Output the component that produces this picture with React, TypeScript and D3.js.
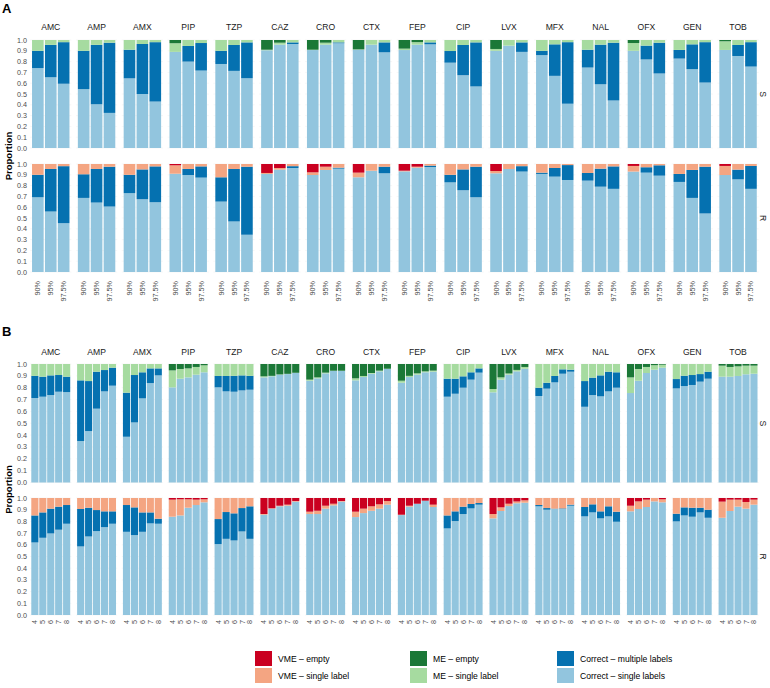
import * as d3 from "d3";

// antibiotics (facet columns)
const drugs = ["AMC", "AMP", "AMX", "PIP", "TZP", "CAZ", "CRO", "CTX", "FEP", "CIP", "LVX", "MFX", "NAL", "OFX", "GEN", "TOB"];
const thresholdsA = ["90%", "95%", "97.5%"];
const thresholdsB = ["4", "5", "6", "7", "8"];
const yTicks = [0, 0.1, 0.2, 0.3, 0.4, 0.5, 0.6, 0.7, 0.8, 0.9, 1.0];

// each bar: [correct single, correct multiple, error single label, error empty]
const aSusceptible = [
  [[0.74, 0.16, 0.10, 0], [0.655, 0.30, 0.045, 0], [0.595, 0.385, 0.02, 0]],
  [[0.545, 0.355, 0.10, 0], [0.405, 0.55, 0.045, 0], [0.325, 0.65, 0.025, 0]],
  [[0.645, 0.265, 0.09, 0], [0.50, 0.463, 0.037, 0], [0.43, 0.55, 0.02, 0]],
  [[0.89, 0, 0.08, 0.03], [0.80, 0.145, 0.055, 0], [0.717, 0.255, 0.028, 0]],
  [[0.778, 0.122, 0.10, 0], [0.714, 0.24, 0.046, 0], [0.646, 0.332, 0.022, 0]],
  [[0.905, 0, 0.005, 0.09], [0.957, 0, 0.018, 0.025], [0.963, 0.015, 0.022, 0]],
  [[0.907, 0, 0.003, 0.09], [0.957, 0, 0.018, 0.025], [0.97, 0.008, 0.022, 0]],
  [[0.91, 0, 0.003, 0.087], [0.957, 0, 0.043, 0], [0.886, 0.092, 0.022, 0]],
  [[0.907, 0, 0.013, 0.08], [0.957, 0, 0.023, 0.02], [0.96, 0.018, 0.022, 0]],
  [[0.79, 0.108, 0.102, 0], [0.674, 0.28, 0.046, 0], [0.57, 0.408, 0.022, 0]],
  [[0.90, 0, 0.017, 0.083], [0.948, 0, 0.052, 0], [0.89, 0.088, 0.022, 0]],
  [[0.86, 0.04, 0.10, 0], [0.668, 0.292, 0.04, 0], [0.41, 0.57, 0.02, 0]],
  [[0.745, 0.165, 0.09, 0], [0.59, 0.367, 0.043, 0], [0.44, 0.535, 0.025, 0]],
  [[0.90, 0, 0.072, 0.028], [0.82, 0.128, 0.052, 0], [0.69, 0.285, 0.025, 0]],
  [[0.828, 0.08, 0.092, 0], [0.73, 0.23, 0.04, 0], [0.606, 0.374, 0.02, 0]],
  [[0.908, 0, 0.08, 0.012], [0.852, 0.102, 0.046, 0], [0.754, 0.226, 0.02, 0]],
];

const aResistant = [
  [[0.692, 0.208, 0.10, 0], [0.56, 0.394, 0.046, 0], [0.452, 0.528, 0.02, 0]],
  [[0.686, 0.219, 0.095, 0], [0.643, 0.311, 0.046, 0], [0.606, 0.369, 0.025, 0]],
  [[0.73, 0.17, 0.10, 0], [0.674, 0.276, 0.05, 0], [0.646, 0.332, 0.022, 0]],
  [[0.91, 0, 0.078, 0.012], [0.898, 0.056, 0.046, 0], [0.874, 0.104, 0.022, 0]],
  [[0.652, 0.225, 0.123, 0], [0.468, 0.486, 0.046, 0], [0.345, 0.63, 0.025, 0]],
  [[0.908, 0, 0.009, 0.083], [0.948, 0, 0.015, 0.037], [0.963, 0.017, 0.02, 0]],
  [[0.898, 0, 0.025, 0.077], [0.945, 0, 0.03, 0.025], [0.957, 0.009, 0.034, 0]],
  [[0.877, 0, 0.043, 0.08], [0.938, 0, 0.062, 0], [0.914, 0.061, 0.025, 0]],
  [[0.932, 0, 0.006, 0.062], [0.966, 0, 0.009, 0.025], [0.972, 0.013, 0.015, 0]],
  [[0.83, 0.07, 0.10, 0], [0.757, 0.193, 0.05, 0], [0.692, 0.283, 0.025, 0]],
  [[0.914, 0, 0.021, 0.065], [0.954, 0, 0.046, 0], [0.93, 0.05, 0.02, 0]],
  [[0.908, 0.012, 0.08, 0], [0.883, 0.08, 0.037, 0], [0.852, 0.138, 0.01, 0]],
  [[0.846, 0.071, 0.083, 0], [0.79, 0.167, 0.043, 0], [0.77, 0.208, 0.022, 0]],
  [[0.93, 0, 0.052, 0.018], [0.92, 0.05, 0.03, 0], [0.892, 0.096, 0.012, 0]],
  [[0.834, 0.074, 0.092, 0], [0.686, 0.259, 0.055, 0], [0.542, 0.433, 0.025, 0]],
  [[0.898, 0, 0.084, 0.018], [0.858, 0.09, 0.052, 0], [0.77, 0.212, 0.018, 0]],
];

const bSusceptible = [
  [[0.713, 0.187, 0.10, 0], [0.724, 0.169, 0.107, 0], [0.738, 0.166, 0.096, 0], [0.766, 0.141, 0.093, 0], [0.763, 0.13, 0.107, 0]],
  [[0.35, 0.512, 0.138, 0], [0.434, 0.422, 0.144, 0], [0.623, 0.312, 0.065, 0], [0.769, 0.18, 0.051, 0], [0.817, 0.152, 0.031, 0]],
  [[0.386, 0.372, 0.242, 0], [0.507, 0.40, 0.093, 0], [0.71, 0.22, 0.07, 0], [0.839, 0.124, 0.037, 0], [0.904, 0.059, 0.037, 0]],
  [[0.803, 0, 0.143, 0.054], [0.876, 0, 0.082, 0.042], [0.887, 0, 0.076, 0.037], [0.91, 0, 0.065, 0.025], [0.93, 0, 0.059, 0.011]],
  [[0.803, 0.096, 0.101, 0], [0.769, 0.13, 0.101, 0], [0.766, 0.134, 0.10, 0], [0.777, 0.127, 0.096, 0], [0.783, 0.117, 0.10, 0]],
  [[0.887, 0, 0.009, 0.104], [0.896, 0, 0.004, 0.10], [0.91, 0, 0.002, 0.088], [0.915, 0, 0.002, 0.083], [0.924, 0, 0.002, 0.074]],
  [[0.859, 0, 0.009, 0.132], [0.879, 0, 0.008, 0.113], [0.921, 0, 0.006, 0.073], [0.941, 0, 0.002, 0.057], [0.941, 0, 0.002, 0.057]],
  [[0.862, 0, 0.017, 0.121], [0.89, 0, 0.009, 0.101], [0.918, 0, 0.006, 0.076], [0.938, 0, 0.006, 0.056], [0.958, 0, 0.002, 0.04]],
  [[0.842, 0, 0.017, 0.141], [0.89, 0, 0.01, 0.10], [0.91, 0, 0.011, 0.079], [0.93, 0, 0.008, 0.062], [0.935, 0, 0.009, 0.056]],
  [[0.724, 0.152, 0.124, 0], [0.749, 0.127, 0.124, 0], [0.80, 0.096, 0.104, 0], [0.868, 0.062, 0.07, 0], [0.927, 0.036, 0.037, 0]],
  [[0.761, 0, 0.028, 0.211], [0.868, 0, 0.019, 0.113], [0.91, 0, 0.01, 0.08], [0.938, 0, 0.012, 0.05], [0.96, 0, 0.015, 0.025]],
  [[0.73, 0.07, 0.20, 0], [0.792, 0.05, 0.158, 0], [0.845, 0.054, 0.101, 0], [0.918, 0.037, 0.045, 0], [0.935, 0.017, 0.048, 0]],
  [[0.639, 0.217, 0.144, 0], [0.738, 0.147, 0.115, 0], [0.727, 0.177, 0.096, 0], [0.769, 0.166, 0.065, 0], [0.80, 0.13, 0.07, 0]],
  [[0.755, 0, 0.132, 0.113], [0.859, 0, 0.099, 0.042], [0.924, 0, 0.051, 0.025], [0.952, 0, 0.038, 0.01], [0.969, 0, 0.025, 0.006]],
  [[0.794, 0.079, 0.127, 0], [0.814, 0.087, 0.099, 0], [0.823, 0.084, 0.093, 0], [0.851, 0.064, 0.085, 0], [0.876, 0.059, 0.065, 0]],
  [[0.893, 0, 0.093, 0.014], [0.893, 0, 0.082, 0.025], [0.899, 0, 0.081, 0.02], [0.913, 0, 0.073, 0.014], [0.918, 0, 0.068, 0.014]],
];

const bResistant = [
  [[0.62, 0.231, 0.149, 0], [0.66, 0.217, 0.123, 0], [0.697, 0.212, 0.091, 0], [0.729, 0.197, 0.074, 0], [0.78, 0.16, 0.06, 0]],
  [[0.586, 0.32, 0.094, 0], [0.671, 0.246, 0.083, 0], [0.717, 0.18, 0.103, 0], [0.751, 0.135, 0.114, 0], [0.78, 0.106, 0.114, 0]],
  [[0.711, 0.229, 0.06, 0], [0.683, 0.237, 0.08, 0], [0.711, 0.166, 0.123, 0], [0.783, 0.094, 0.123, 0], [0.78, 0.043, 0.177, 0]],
  [[0.84, 0, 0.146, 0.014], [0.851, 0, 0.138, 0.011], [0.917, 0, 0.072, 0.011], [0.94, 0, 0.046, 0.014], [0.963, 0, 0.026, 0.011]],
  [[0.606, 0.214, 0.18, 0], [0.651, 0.229, 0.12, 0], [0.637, 0.232, 0.131, 0], [0.714, 0.20, 0.086, 0], [0.651, 0.278, 0.071, 0]],
  [[0.857, 0, 0.006, 0.137], [0.909, 0, 0.003, 0.088], [0.929, 0, 0.005, 0.066], [0.934, 0, 0.009, 0.057], [0.969, 0, 0.005, 0.026]],
  [[0.863, 0, 0.02, 0.117], [0.863, 0, 0.028, 0.109], [0.909, 0, 0.025, 0.066], [0.937, 0, 0.014, 0.049], [0.969, 0, 0.005, 0.026]],
  [[0.837, 0, 0.046, 0.117], [0.871, 0, 0.038, 0.091], [0.891, 0, 0.038, 0.071], [0.909, 0, 0.037, 0.054], [0.943, 0, 0.031, 0.026]],
  [[0.854, 0, 0.003, 0.143], [0.926, 0, 0.008, 0.066], [0.951, 0, 0, 0.049], [0.977, 0, 0, 0.023], [0.923, 0, 0.02, 0.057]],
  [[0.74, 0.111, 0.149, 0], [0.803, 0.083, 0.114, 0], [0.863, 0.063, 0.074, 0], [0.911, 0.038, 0.051, 0], [0.943, 0.014, 0.043, 0]],
  [[0.826, 0, 0.037, 0.137], [0.889, 0, 0.031, 0.08], [0.931, 0, 0.02, 0.049], [0.955, 0, 0.015, 0.03], [0.96, 0, 0.02, 0.02]],
  [[0.929, 0.011, 0.06, 0], [0.90, 0.014, 0.086, 0], [0.906, 0.003, 0.091, 0], [0.906, 0.005, 0.089, 0], [0.934, 0.009, 0.057, 0]],
  [[0.843, 0.08, 0.077, 0], [0.877, 0.069, 0.054, 0], [0.826, 0.06, 0.114, 0], [0.843, 0.086, 0.071, 0], [0.797, 0.086, 0.117, 0]],
  [[0.886, 0, 0.048, 0.066], [0.906, 0, 0.065, 0.029], [0.923, 0, 0.063, 0.014], [0.971, 0, 0.029, 0], [0.963, 0, 0.026, 0.011]],
  [[0.80, 0.066, 0.134, 0], [0.851, 0.069, 0.08, 0], [0.84, 0.077, 0.083, 0], [0.877, 0.04, 0.083, 0], [0.831, 0.069, 0.10, 0]],
  [[0.831, 0, 0.138, 0.031], [0.889, 0, 0.097, 0.014], [0.926, 0, 0.06, 0.014], [0.909, 0, 0.057, 0.034], [0.943, 0, 0.043, 0.014]],
];

const colorsS = ["#92C5DE", "#0571B0", "#A6DBA0", "#1B7837"];
const colorsR = ["#92C5DE", "#0571B0", "#F4A582", "#CA0020"];

const legendItems = [
  { label: "VME \u2013 empty", color: "#CA0020" },
  { label: "ME \u2013 empty", color: "#1B7837" },
  { label: "Correct \u2013 multiple labels", color: "#0571B0" },
  { label: "VME \u2013 single label", color: "#F4A582" },
  { label: "ME \u2013 single label", color: "#A6DBA0" },
  { label: "Correct \u2013 single labels", color: "#92C5DE" },
];

const FONT = "'Liberation Sans', Arial, Helvetica, sans-serif";
const W = 770;
const H = 688;
const panelX0 = 30.1;
const panelStep = 45.82;
const panelW = 41.3;

const stack = d3
  .stack<number[]>()
  .keys(["0", "1", "2", "3"])
  .value((d, k) => d[+k]);

type RowDef = { name: string; top: number; bottom: number; data: number[][][]; colors: string[] };

function Block({ label, labelY, stripY, rows, thresholds, tickY }: {
  label: string; labelY: number; stripY: number; rows: RowDef[]; thresholds: string[]; tickY: number;
}) {
  const midY = (rows[0].top + rows[rows.length - 1].bottom) / 2;
  return (
    <g>
      <text x={2} y={labelY} fontSize={13} fontWeight="bold" fill="#000">{label}</text>
      <text transform={`translate(11.5,${midY}) rotate(-90)`} textAnchor="middle" fontSize={9.5} fontWeight="bold" fill="#000">Proportion</text>
      {drugs.map((drug, i) => {
        const px = panelX0 + i * panelStep;
        return (
          <text key={drug} x={px + panelW / 2} y={stripY} textAnchor="middle" fontSize={8.6} fill="#1A1A1A">{drug}</text>
        );
      })}
      {rows.map((row) => {
        const y = d3.scaleLinear().domain([0, 1]).range([row.bottom, row.top]);
        return (
          <g key={row.name}>
            {yTicks.map((t) => (
              <text key={t} x={27} y={y(t)} dy="0.35em" textAnchor="end" fontSize={7.2} fill="#4D4D4D">{d3.format(".1f")(t)}</text>
            ))}
            <text transform={`translate(760,${(row.top + row.bottom) / 2}) rotate(90)`} textAnchor="middle" fontSize={8.6} fill="#1A1A1A">{row.name}</text>
            {drugs.map((drug, i) => {
              const px = panelX0 + i * panelStep;
              const x = d3.scaleBand().domain(thresholds).range([px, px + panelW]).paddingInner(0.1).paddingOuter(0.15);
              const series = stack(row.data[i]);
              return (
                <g key={drug}>
                  {yTicks.map((t) => (
                    <line key={t} x1={px} x2={px + panelW} y1={y(t)} y2={y(t)} stroke="#EEEEEE" strokeWidth={0.5} />
                  ))}
                  {series.map((s, k) =>
                    s.map((seg, j) => {
                      const h = y(seg[0]) - y(seg[1]);
                      if (h <= 0) return null;
                      return (
                        <rect key={`${k}-${j}`} x={x(thresholds[j])} y={y(seg[1])} width={x.bandwidth()} height={h} fill={row.colors[k]} />
                      );
                    })
                  )}
                </g>
              );
            })}
          </g>
        );
      })}
      {drugs.map((drug, i) => {
        const px = panelX0 + i * panelStep;
        const x = d3.scaleBand().domain(thresholds).range([px, px + panelW]).paddingInner(0.1).paddingOuter(0.15);
        return (
          <g key={drug}>
            {thresholds.map((t) => (
              <text key={t} transform={`translate(${(x(t) || 0) + x.bandwidth() / 2},${tickY}) rotate(-90)`} dy="0.35em" textAnchor="end" fontSize={7.2} fill="#4D4D4D">{t}</text>
            ))}
          </g>
        );
      })}
    </g>
  );
}

export default function App() {
  const rowsA: RowDef[] = [
    { name: "S", top: 40, bottom: 148, data: aSusceptible, colors: colorsS },
    { name: "R", top: 164, bottom: 272, data: aResistant, colors: colorsR },
  ];
  const rowsB: RowDef[] = [
    { name: "S", top: 364, bottom: 482.5, data: bSusceptible, colors: colorsS },
    { name: "R", top: 498, bottom: 615, data: bResistant, colors: colorsR },
  ];
  const legendCols = [255, 410, 557];
  const legendRows = [651, 668];

  return (
    <svg width={W} height={H} style={{ position: "absolute", left: 0, top: 0, background: "#fff" }} fontFamily={FONT}>
      <Block label="A" labelY={13} stripY={29.5} rows={rowsA} thresholds={thresholdsA} tickY={281} />
      <Block label="B" labelY={336} stripY={354.5} rows={rowsB} thresholds={thresholdsB} tickY={620} />
      <g>
        {legendItems.map((item, i) => {
          const cx = legendCols[i % 3];
          const cy = legendRows[Math.floor(i / 3)];
          return (
            <g key={item.label}>
              <rect x={cx} y={cy} width={17} height={15} fill={item.color} />
              <text x={cx + 23} y={cy + 7.5} dy="0.35em" fontSize={8.6} fill="#000">{item.label}</text>
            </g>
          );
        })}
      </g>
    </svg>
  );
}
